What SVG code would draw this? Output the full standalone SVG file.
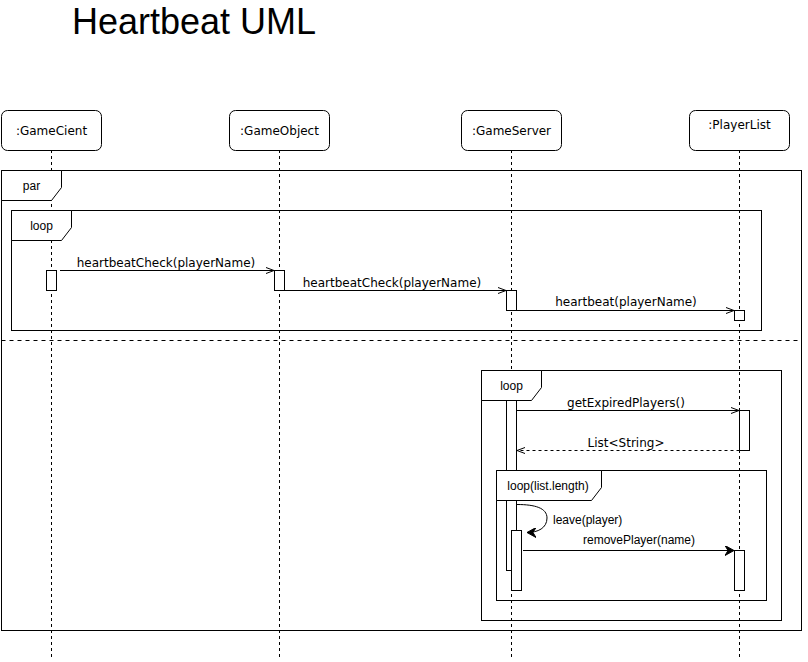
<svg xmlns="http://www.w3.org/2000/svg" width="808" height="662" viewBox="0 0 808 662">
<style>
.box{fill:#fff;stroke:#000;stroke-width:1}
.life{stroke:#000;stroke-width:1;stroke-dasharray:3 3;fill:none}
.frame{fill:none;stroke:#000;stroke-width:1}
.lbl{fill:#fff;stroke:#000;stroke-width:1}
.msg{stroke:#000;stroke-width:1;fill:none}
.t{font-family:"DejaVu Sans",sans-serif;font-size:12px;fill:#000}
.s{font-family:"Liberation Sans",Arial,sans-serif;font-size:12px;fill:#000}
</style>
<defs>
<marker id="open" markerWidth="10" markerHeight="8" refX="9" refY="4" orient="auto" markerUnits="userSpaceOnUse"><path d="M1,1 L9,4 L1,7" fill="none" stroke="#000" stroke-width="1"/></marker>
<marker id="filled" markerWidth="10" markerHeight="10" refX="9" refY="5" orient="auto" markerUnits="userSpaceOnUse"><path d="M0,0 L9,5 L0,10 L3,5 Z" fill="#000" stroke="#000" stroke-width="1"/></marker>
</defs>
<rect width="808" height="662" fill="#fff"/>
<text x="72" y="34" font-family="Liberation Sans,Arial,sans-serif" font-size="36" fill="#000">Heartbeat UML</text>

<g id="lifelines">
<line class="life" x1="51.5" y1="150" x2="51.5" y2="660"/>
<line class="life" x1="279.5" y1="150" x2="279.5" y2="660"/>
<line class="life" x1="511.5" y1="150" x2="511.5" y2="660"/>
<line class="life" x1="739.5" y1="150" x2="739.5" y2="660"/>
</g>

<g id="GameCient"><rect class="box" x="1.5" y="110.5" width="100" height="40" rx="6"/><text class="t" x="51.5" y="135" text-anchor="middle">:GameCient</text></g>
<g id="GameObject"><rect class="box" x="229.5" y="110.5" width="100" height="40" rx="6"/><text class="t" x="279.5" y="135" text-anchor="middle">:GameObject</text></g>
<g id="GameServer"><rect class="box" x="461.5" y="110.5" width="100" height="40" rx="6"/><text class="t" x="511.5" y="135" text-anchor="middle">:GameServer</text></g>
<g id="PlayerList"><rect class="box" x="689.5" y="110.5" width="100" height="40" rx="6"/><text class="t" x="739.5" y="129" text-anchor="middle">:PlayerList</text></g>

<g id="par">
<rect class="frame" x="1.5" y="170.5" width="800" height="460"/>
<path class="lbl" d="M1.5,170.5 H61.5 V187.5 L51.5,200.5 H1.5 Z"/>
<text class="s" x="31.5" y="190" text-anchor="middle">par</text>
<line x1="1.5" y1="340.5" x2="801.5" y2="340.5" stroke="#000" stroke-dasharray="4 4"/>
</g>

<g id="loop1">
<rect class="frame" x="11.5" y="210.5" width="750" height="120"/>
<path class="lbl" d="M11.5,210.5 H71.5 V227.5 L61.5,240.5 H11.5 Z"/>
<text class="s" x="41.5" y="230" text-anchor="middle">loop</text>
</g>

<g id="loop2">
<rect class="frame" x="481.5" y="370.5" width="300" height="250"/>
<path class="lbl" d="M481.5,370.5 H541.5 V387.5 L531.5,400.5 H481.5 Z"/>
<text class="s" x="511.5" y="390" text-anchor="middle">loop</text>
</g>

<g id="activations">
<rect class="box" x="46.5" y="270.5" width="10" height="20"/>
<rect class="box" x="274.5" y="270.5" width="10" height="20"/>
<rect class="box" x="506.5" y="290.5" width="10" height="20"/>
<rect class="box" x="734.5" y="310.5" width="10" height="10"/>
<rect class="box" x="506.5" y="400.5" width="10" height="170"/>
<rect class="box" x="739.5" y="410.5" width="10" height="40"/>
</g>

<g id="loop3">
<rect class="frame" x="496.5" y="470.5" width="270" height="130"/>
<path class="lbl" d="M496.5,470.5 H601.5 V487.5 L591.5,500.5 H496.5 Z"/>
<text class="s" x="548" y="490" text-anchor="middle">loop(list.length)</text>
</g>

<g id="activations2">
<rect class="box" x="511.5" y="530.5" width="10" height="60"/>
<rect class="box" x="734.5" y="550.5" width="10" height="40"/>
</g>

<g id="connectors">
<line class="msg" x1="60" y1="270.5" x2="274" y2="270.5" marker-end="url(#open)"/>
<text class="t" x="166" y="267" text-anchor="middle">heartbeatCheck(playerName)</text>
<line class="msg" x1="284.5" y1="290.5" x2="506" y2="290.5" marker-end="url(#open)"/>
<text class="t" x="392" y="287" text-anchor="middle">heartbeatCheck(playerName)</text>
<line class="msg" x1="516.5" y1="310.5" x2="734" y2="310.5" marker-end="url(#open)"/>
<text class="t" x="626" y="306" text-anchor="middle">heartbeat(playerName)</text>
<line class="msg" x1="516.5" y1="410.5" x2="739" y2="410.5" marker-end="url(#open)"/>
<text class="t" x="626" y="407" text-anchor="middle">getExpiredPlayers()</text>
<line class="msg" x1="739.5" y1="450.5" x2="517" y2="450.5" stroke-dasharray="3 3" marker-end="url(#open)"/>
<text class="t" x="626" y="447" text-anchor="middle">List&lt;String&gt;</text>
<path class="msg" d="M517,504.5 C535,504.5 547,508 547,518 C547,528 538,532.5 527,532.5" marker-end="url(#filled)"/>
<text class="s" x="553" y="524">leave(player)</text>
<line class="msg" x1="523" y1="550.5" x2="734" y2="550.5" marker-end="url(#filled)"/>
<text class="s" x="639" y="544" text-anchor="middle">removePlayer(name)</text>
</g>
</svg>
